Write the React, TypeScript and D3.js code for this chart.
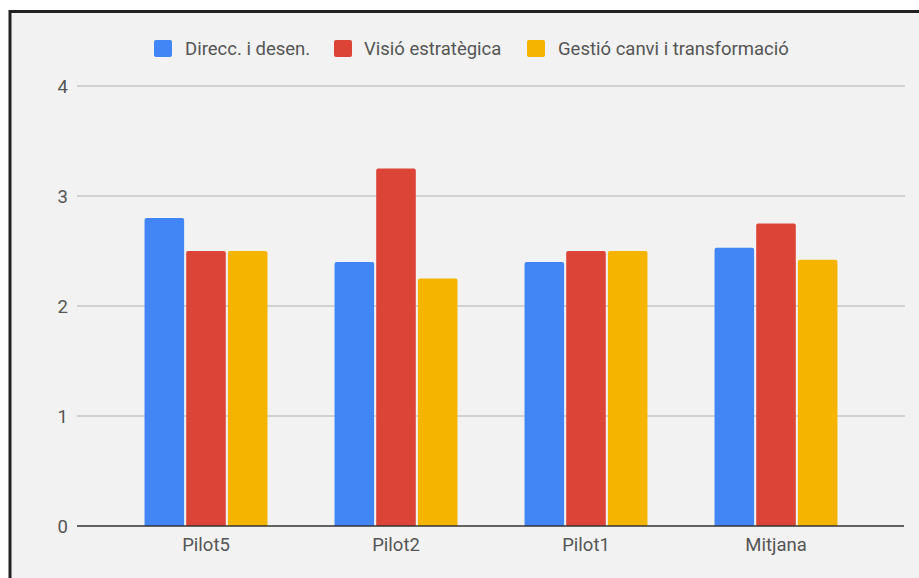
import React from "react";
import * as d3 from "d3";

const categories = ["Pilot5", "Pilot2", "Pilot1", "Mitjana"];
const seriesNames = ["Direcc. i desen.", "Visió estratègica", "Gestió canvi i transformació"];
const seriesColors = ["#4285f4", "#db4437", "#f4b400"];
const direccValues = [2.8, 2.4, 2.4, 2.53];
const visioValues = [2.5, 3.25, 2.5, 2.75];
const gestioValues = [2.5, 2.25, 2.5, 2.42];
const yTicks = [0, 1, 2, 3, 4];

const W = 919;
const H = 578;
const FONT = "Roboto, 'Noto Sans', Arial, sans-serif";
const TEXT_COLOR = "#555555";

export default function App() {
  const series = [direccValues, visioValues, gestioValues];

  const y = d3.scaleLinear().domain([0, 4]).range([526, 86]);
  const x0 = d3.scaleBand<string>().domain(categories).range([111, 871]).paddingInner(0.353).paddingOuter(0.1765);
  const x1 = d3.scaleBand<number>().domain([0, 1, 2]).range([0, x0.bandwidth()]).paddingInner(0.05);

  const gridLeft = 77;
  const gridRight = 905;

  const legendItems = [
    { x: 154, textX: 185 },
    { x: 334, textX: 364 },
    { x: 527, textX: 558 },
  ];

  return (
    <div style={{ position: "fixed", left: 0, top: 0, width: W, height: H, background: "#fff" }}>
      <svg width={W} height={H} style={{ display: "block" }}>
        <rect x={10} y={11.5} width={W + 10} height={H + 10} fill="#f2f2f2" stroke="#222" strokeWidth={3} />

        {/* legend */}
        {seriesNames.map((name, i) => (
          <g key={name}>
            <rect x={legendItems[i].x} y={40} width={18} height={17} rx={2} fill={seriesColors[i]} />
            <text x={legendItems[i].textX} y={48.5} dy="0.36em" fontFamily={FONT} fontSize={18.5} fill={TEXT_COLOR}>
              {name}
            </text>
          </g>
        ))}

        {/* gridlines and y labels */}
        {yTicks.map((t) => (
          <g key={t}>
            {t !== 0 && (
              <line x1={gridLeft} x2={gridRight} y1={y(t)} y2={y(t)} stroke="#c6c6c6" strokeWidth={1.3} />
            )}
            <text x={68} y={y(t)} dy="0.36em" textAnchor="end" fontFamily={FONT} fontSize={18.5} fill={TEXT_COLOR}>
              {t}
            </text>
          </g>
        ))}

        {/* bars */}
        {categories.map((c, ci) => (
          <g key={c} transform={`translate(${x0(c)},0)`}>
            {series.map((vals, si) => {
              const top = y(vals[ci]);
              const h = y(0) - top;
              const bx = x1(si) as number;
              const bw = x1.bandwidth();
              const r = 2;
              const path = `M${bx},${y(0)} V${top + r} Q${bx},${top} ${bx + r},${top} H${bx + bw - r} Q${bx + bw},${top} ${bx + bw},${top + r} V${y(0)} Z`;
              return <path key={si} d={h > 0 ? path : ""} fill={seriesColors[si]} />;
            })}
          </g>
        ))}

        {/* baseline */}
        <line x1={gridLeft} x2={gridRight - 1} y1={y(0)} y2={y(0)} stroke="#333" strokeWidth={1.5} />

        {/* category labels */}
        {categories.map((c) => (
          <text
            key={c}
            x={(x0(c) as number) + x0.bandwidth() / 2}
            y={551}
            textAnchor="middle"
            fontFamily={FONT}
            fontSize={18.5}
            fill={TEXT_COLOR}
          >
            {c}
          </text>
        ))}
      </svg>
    </div>
  );
}
